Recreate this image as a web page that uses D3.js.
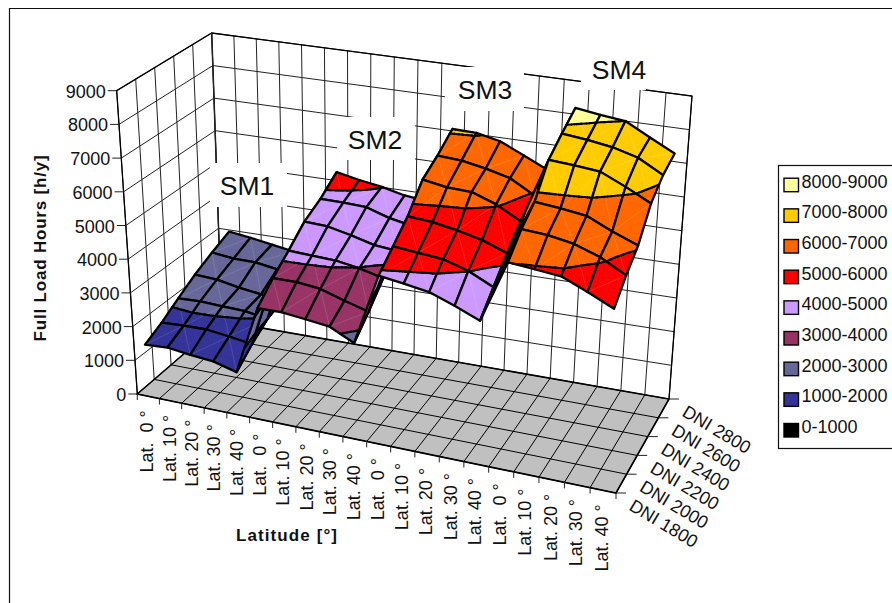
<!DOCTYPE html>
<html>
<head>
<meta charset="utf-8">
<script src="https://cdn.jsdelivr.net/npm/d3@7"></script>
<style>
    html, body { margin: 0; padding: 0; background: #fff; }
    svg { display: block; }
    text { font-family: "Liberation Sans", Arial, sans-serif; fill: #111; white-space: pre; }
</style>
</head>
<body>
<div id="chart"></div>
<script>
const latLabels = [
    "Lat.  0 °", "Lat. 10 °", "Lat. 20 °", "Lat. 30 °", "Lat. 40 °",
    "Lat.  0 °", "Lat. 10 °", "Lat. 20 °", "Lat. 30 °", "Lat. 40 °",
    "Lat.  0 °", "Lat. 10 °", "Lat. 20 °", "Lat. 30 °", "Lat. 40 °",
    "Lat.  0 °", "Lat. 10 °", "Lat. 20 °", "Lat. 30 °", "Lat. 40 °"
];
const dniLabels = ["DNI 1800", "DNI 2000", "DNI 2200", "DNI 2400", "DNI 2600", "DNI 2800"];

// full load hours, one list per DNI, SM1..SM4 side by side
const dni1800 = [1530, 1580, 1500, 1440, 1260, 3280, 3300, 3230, 3150, 2810, 4920, 4830, 4720, 4460, 4170, 6010, 5950, 5890, 5580, 5240];
const dni2000 = [1790, 1830, 1840, 1760, 1660, 3750, 3760, 3690, 3470, 3280, 5340, 5280, 5220, 5010, 4670, 6500, 6460, 6340, 6090, 5700];
const dni2200 = [2120, 2150, 2120, 2100, 1990, 4150, 4120, 4100, 3990, 3820, 5780, 5730, 5610, 5450, 5190, 6830, 6760, 6670, 6340, 6060];
const dni2400 = [2440, 2400, 2270, 2180, 2160, 4600, 4570, 4420, 4240, 4180, 6430, 6310, 6290, 6040, 5650, 7590, 7550, 7480, 7150, 6780];
const dni2600 = [2710, 2630, 2620, 2520, 2480, 4870, 4860, 4830, 4610, 4480, 6700, 6660, 6530, 6350, 5950, 7900, 7820, 7710, 7510, 7110];
const dni2800 = [2950, 2860, 2750, 2640, 2570, 5260, 5120, 5010, 4850, 4770, 7060, 7040, 6890, 6560, 6230, 8190, 8080, 8000, 7610, 7240];
const series = [dni1800, dni2000, dni2200, dni2400, dni2600, dni2800];

const bandLabels = ["0-1000", "1000-2000", "2000-3000", "3000-4000", "4000-5000", "5000-6000", "6000-7000", "7000-8000", "8000-9000"];
const bandColors = ["#000000", "#333399", "#666699", "#993366", "#CC99FF", "#FF0000", "#FF6600", "#FFCC00", "#FFFF99"];
const smLabels = ["SM1", "SM2", "SM3", "SM4"];

const width = 892, height = 603;

// corners of the plot box on screen, FL = front left, BR = back right
const base = {FL: [137.3, 394], FR: [616, 493], BR: [669, 399], BL: [222, 326]};
const floorBox = {FL: [137.3, 394], FR: [616, 493], BR: [669, 399], BL: [222, 321]};
const top3d = {FL: [116.7, 90.7], FR: [636, 181], BR: [692, 96], BL: [211.7, 33]};

const catScale = d3.scaleLinear().domain([0, latLabels.length]).range([0, 1]);
const dniScale = d3.scaleLinear().domain([0, dniLabels.length - 1]).range([0, 1]);
const zScale = d3.scaleLinear().domain([0, 9000]).range([0, 1]);

// ticks along the front get wider to the right
function warp(s) {
    const g = -0.08;
    return s * (1 + g) / (1 + g * s);
}

function bilinear(box, s, t) {
    const f = warp(s);
    const a = [0, 1].map(k => box.FL[k] + (box.FR[k] - box.FL[k]) * f);
    const b = [0, 1].map(k => box.BL[k] + (box.BR[k] - box.BL[k]) * f);
    return [a[0] + (b[0] - a[0]) * t, a[1] + (b[1] - a[1]) * t];
}

function project(s, t, z) {
    const p0 = bilinear(base, s, t);
    const p1 = bilinear(top3d, s, t);
    const k = zScale(z);
    return [p0[0] + (p1[0] - p0[0]) * k, p0[1] + (p1[1] - p0[1]) * k];
}

const line = d3.line();
const closed = pts => line(pts) + "Z";

const svg = d3.select("#chart").append("svg")
    .attr("width", width)
    .attr("height", height);

svg.append("path")
    .attr("d", `M9.5,${height}V8.5H${width}`)
    .attr("fill", "none")
    .attr("stroke", "#111")
    .attr("stroke-width", 1.2);

// walls
const walls = svg.append("g").attr("fill", "none").attr("stroke", "#222").attr("stroke-width", 1);
const uTicks = d3.range(latLabels.length + 1).map(i => catScale(i));
const vTicks = dniLabels.map((d, i) => dniScale(i));
const zTicks = zScale.ticks(9);

uTicks.forEach(s => {
    walls.append("path").attr("d", line([project(s, 1, 0), project(s, 1, 9000)]));
});
vTicks.forEach(t => {
    walls.append("path").attr("d", line([project(0, t, 0), project(0, t, 9000)]));
});
zTicks.filter(z => z > 0).forEach(z => {
    walls.append("path").attr("d", line([project(0, 0, z), project(0, 1, z), project(1, 1, z)]));
});
walls.append("path")
    .attr("stroke", "#000")
    .attr("stroke-width", 1.3)
    .attr("d", line([project(0, 0, 0), project(0, 0, 9000), project(0, 1, 9000), project(1, 1, 9000), project(1, 1, 0)]));
walls.append("path")
    .attr("d", line([project(0, 1, 0), project(0, 1, 9000)]))
    .attr("stroke-width", 1.5);

// floor
const floor = svg.append("g");
floor.append("path")
    .attr("d", closed([[0, 0], [1, 0], [1, 1], [0, 1]].map(c => bilinear(floorBox, c[0], c[1]))))
    .attr("fill", "#C0C0C0");
uTicks.forEach(s => {
    floor.append("path")
        .attr("d", line([bilinear(floorBox, s, 0), bilinear(floorBox, s, 1)]))
        .attr("stroke", "#000").attr("stroke-width", 1);
});
vTicks.forEach(t => {
    floor.append("path")
        .attr("d", line([bilinear(floorBox, 0, t), bilinear(floorBox, 1, t)]))
        .attr("stroke", "#000").attr("stroke-width", 1);
});
floor.append("path")
    .attr("d", line([bilinear(floorBox, 0, 1), bilinear(floorBox, 0, 0), bilinear(floorBox, 1, 0), bilinear(floorBox, 1, 1), bilinear(floorBox, 0, 1)]))
    .attr("fill", "none").attr("stroke", "#000").attr("stroke-width", 1.6);

// white boxes behind the SM labels
const smBoxes = [[210, 163, 77, 44], [337, 117, 78, 43], [445, 67, 79, 44], [581, 48, 65, 42]];
const smText = [[247, 186], [375, 140], [485, 90], [619, 70]];
svg.append("g").selectAll("rect").data(smBoxes).join("rect")
    .attr("x", d => d[0]).attr("y", d => d[1])
    .attr("width", d => d[2]).attr("height", d => d[3])
    .attr("fill", "#fff");
svg.append("g").selectAll("text").data(smLabels).join("text")
    .attr("x", (d, i) => smText[i][0])
    .attr("y", (d, i) => smText[i][1])
    .attr("text-anchor", "middle")
    .attr("dominant-baseline", "central")
    .attr("font-size", 26.5)
    .text(d => d);

// clip a polygon of [s, t, z] points to one side of a height
function clipZ(poly, level, keepAbove) {
    const out = [];
    poly.forEach((p, i) => {
        const q = poly[(i + 1) % poly.length];
        const pIn = keepAbove ? p[2] >= level : p[2] <= level;
        const qIn = keepAbove ? q[2] >= level : q[2] <= level;
        if (pIn) out.push(p);
        if (pIn !== qIn) {
            const k = (level - p[2]) / (q[2] - p[2]);
            out.push([p[0] + (q[0] - p[0]) * k, p[1] + (q[1] - p[1]) * k, level]);
        }
    });
    return out;
}

const toScreen = p => project(p[0], p[1], p[2]);

function levelSegment(tri, level) {
    const pts = [];
    tri.forEach((p, i) => {
        const q = tri[(i + 1) % 3];
        if ((p[2] < level) !== (q[2] < level)) {
            const k = (level - p[2]) / (q[2] - p[2]);
            pts.push([p[0] + (q[0] - p[0]) * k, p[1] + (q[1] - p[1]) * k, level]);
        }
    });
    return pts.length === 2 ? pts : null;
}

// small triangles inside one cell, so the band edges come out as curves
const steps = 6;
function subdivide(q) {
    const at = (a, b) => [0, 1, 2].map(k => {
        const front = q[0][k] + (q[1][k] - q[0][k]) * a;
        const back = q[3][k] + (q[2][k] - q[3][k]) * a;
        return front + (back - front) * b;
    });
    const tris = [];
    for (let a = 0; a < steps; a++) {
        for (let b = 0; b < steps; b++) {
            const p00 = at(a / steps, b / steps), p10 = at((a + 1) / steps, b / steps);
            const p11 = at((a + 1) / steps, (b + 1) / steps), p01 = at(a / steps, (b + 1) / steps);
            tris.push([p00, p10, p11], [p00, p11, p01]);
        }
    }
    return tris;
}

// cells go back to front, left to right
const vertex = (i, j) => [catScale(i + 0.5), dniScale(j), series[j][i]];
const cells = [];
for (let j = series.length - 2; j >= 0; j--) {
    for (let i = 0; i < latLabels.length - 1; i++) {
        cells.push({
            quad: [vertex(i, j), vertex(i + 1, j), vertex(i + 1, j + 1), vertex(i, j + 1)],
            flip: (i + j) % 2 === 0
        });
    }
}

const surface = svg.append("g").attr("stroke-linejoin", "round").attr("stroke-linecap", "round");
cells.forEach(cell => {
    const g = surface.append("g");
    const q = cell.quad;
    const tris = subdivide(q);
    tris.forEach(tri => {
        bandColors.forEach((color, b) => {
            const piece = clipZ(clipZ(tri, b * 1000, true), (b + 1) * 1000, false);
            if (piece.length < 3) return;
            g.append("path")
                .attr("d", closed(piece.map(toScreen)))
                .attr("fill", color)
                .attr("stroke", color)
                .attr("stroke-width", 0.9);
        });
    });
    // faint seam where the cell is split
    const seam = cell.flip ? [q[0], q[2]] : [q[1], q[3]];
    g.append("path")
        .attr("d", line(seam.map(toScreen)))
        .attr("stroke", "#fff")
        .attr("stroke-opacity", 0.22)
        .attr("stroke-width", 0.6);
    tris.forEach(tri => {
        zTicks.forEach(level => {
            const seg = levelSegment(tri, level);
            if (!seg) return;
            g.append("path")
                .attr("d", line(seg.map(toScreen)))
                .attr("stroke", "#000")
                .attr("stroke-width", 2.1);
        });
    });
    g.append("path")
        .attr("d", closed(q.map(toScreen)))
        .attr("fill", "none")
        .attr("stroke", "#000")
        .attr("stroke-width", 2.3);
});

// value axis
const valueAxis = svg.append("g");
zTicks.forEach(z => {
    const p = project(0, 0, z);
    valueAxis.append("path")
        .attr("d", line([[p[0] - 9, p[1]], p]))
        .attr("stroke", "#222");
    valueAxis.append("text")
        .attr("x", p[0] - 11)
        .attr("y", p[1] + 1)
        .attr("text-anchor", "end")
        .attr("dominant-baseline", "central")
        .attr("font-size", 18)
        .text(z);
});

// latitude axis
const latAxis = svg.append("g");
uTicks.forEach(s => {
    const p = bilinear(floorBox, s, 0);
    latAxis.append("path").attr("d", line([p, [p[0], p[1] + 6]])).attr("stroke", "#222");
});
latLabels.forEach((d, i) => {
    const p = bilinear(floorBox, catScale(i + 0.5), 0);
    latAxis.append("text")
        .attr("transform", `translate(${p[0] - 1},${p[1] + 14}) rotate(-90)`)
        .attr("text-anchor", "end")
        .attr("dominant-baseline", "central")
        .attr("font-size", 18)
        .text(d);
});

// DNI axis
const dniAxis = svg.append("g");
dniLabels.forEach((d, j) => {
    const p = bilinear(floorBox, 1, dniScale(j));
    dniAxis.append("path").attr("d", line([p, [p[0] + 10, p[1]]])).attr("stroke", "#222");
    dniAxis.append("text")
        .attr("transform", `translate(${p[0] + 15},${p[1] + 11}) rotate(31)`)
        .attr("dominant-baseline", "central")
        .attr("font-size", 18)
        .text(d);
});

// axis titles
svg.append("text")
    .attr("transform", "translate(40,248) rotate(-90)")
    .attr("text-anchor", "middle")
    .attr("dominant-baseline", "central")
    .attr("font-size", 17)
    .attr("font-weight", "bold")
    .attr("letter-spacing", 0.8)
    .text("Full Load Hours [h/y]");
svg.append("text")
    .attr("x", 287)
    .attr("y", 535)
    .attr("text-anchor", "middle")
    .attr("dominant-baseline", "central")
    .attr("font-size", 17)
    .attr("font-weight", "bold")
    .attr("letter-spacing", 1.1)
    .text("Latitude [°]");

// legend
const legend = svg.append("g");
legend.append("rect")
    .attr("x", 778.5).attr("y", 165.5)
    .attr("width", 120).attr("height", 283)
    .attr("fill", "#fff").attr("stroke", "#111").attr("stroke-width", 1.2);
const legendY = d3.scaleLinear().domain([8, 0]).range([181.7, 427]);
bandLabels.forEach((d, b) => {
    legend.append("rect")
        .attr("x", 784).attr("y", legendY(b) - 3.5)
        .attr("width", 14.5).attr("height", 13.5)
        .attr("fill", bandColors[b]).attr("stroke", "#000").attr("stroke-width", 1.4);
    legend.append("text")
        .attr("x", 801.5).attr("y", legendY(b))
        .attr("dominant-baseline", "central")
        .attr("font-size", 18)
        .text(d);
});
</script>
</body>
</html>
